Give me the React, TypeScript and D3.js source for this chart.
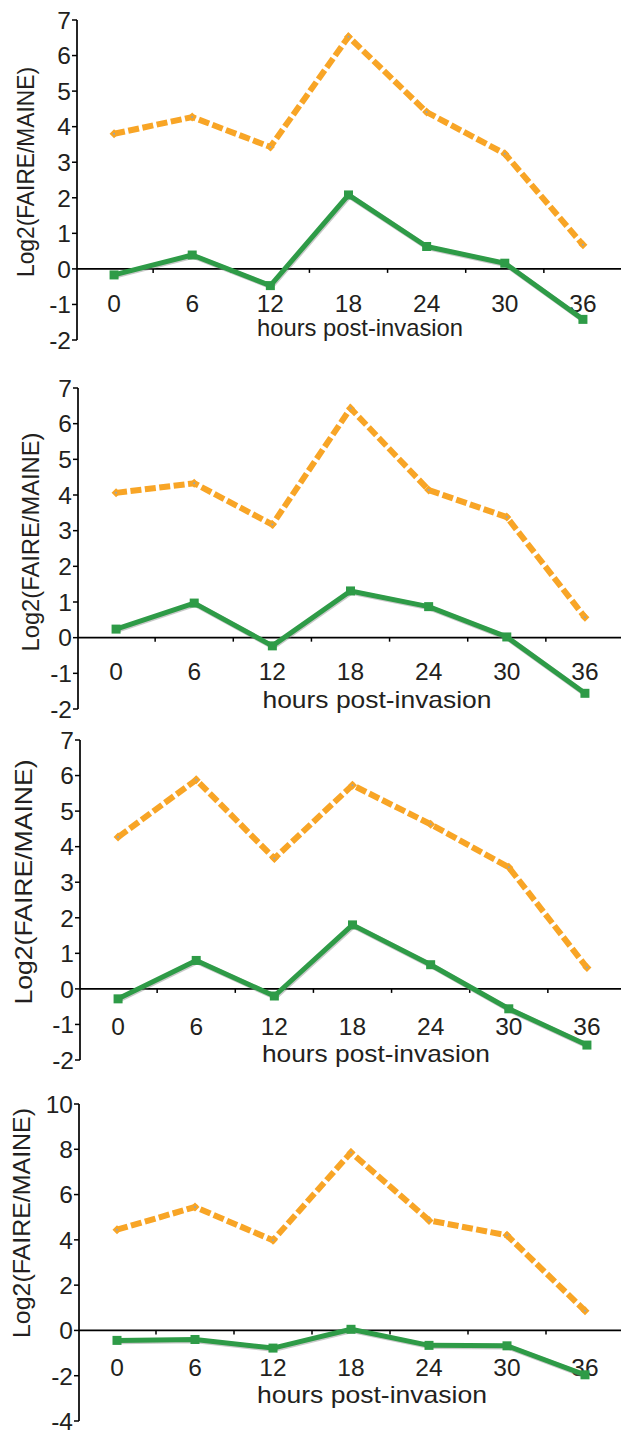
import React from 'react';
import * as d3 from 'd3';

// hours post-invasion (x categories)
const hours = ['0', '6', '12', '18', '24', '30', '36'];

// panel A
const orangeA = [3.8, 4.27, 3.43, 6.53, 4.41, 3.24, 0.68];
const greenA = [-0.17, 0.39, -0.47, 2.08, 0.63, 0.16, -1.42];
// panel B
const orangeB = [4.06, 4.33, 3.17, 6.43, 4.14, 3.38, 0.57];
const greenB = [0.24, 0.97, -0.23, 1.31, 0.87, 0.02, -1.56];
// panel C
const orangeC = [4.27, 5.88, 3.67, 5.73, 4.63, 3.42, 0.6];
const greenC = [-0.28, 0.8, -0.2, 1.8, 0.68, -0.56, -1.58];
// panel D
const orangeD = [4.45, 5.45, 3.98, 7.86, 4.86, 4.2, 0.87];
const greenD = [-0.44, -0.4, -0.78, 0.05, -0.66, -0.68, -1.96];

const ticksAD = [-2, -1, 0, 1, 2, 3, 4, 5, 6, 7];
const ticksD = [-4, -2, 0, 2, 4, 6, 8, 10];

const yLabel = 'Log2(FAIRE/MAINE)';
const xLabel = 'hours post-invasion';

const ORANGE = '#F8A526';
const GREEN = '#2E9B47';
const INK = '#231F20';
const FONT = '"Liberation Sans", Arial, sans-serif';

const layouts = [
	{ orange: orangeA, green: greenA, ticks: ticksAD, top: 20, bottom: 340, axisX: 77, band: [75, 622], labDy: 34, titleDy: 58, titleX: 360, titleLen: 206, ylX: 34, ylY: 172, ylLen: 210 },
	{ orange: orangeB, green: greenB, ticks: ticksAD, top: 388, bottom: 709, axisX: 78, band: [77, 624], labDy: 34, titleDy: 62, titleX: 377, titleLen: 229, ylX: 39, ylY: 542, ylLen: 219 },
	{ orange: orangeC, green: greenC, ticks: ticksAD, top: 740, bottom: 1060, axisX: 80, band: [79, 626], labDy: 37, titleDy: 64, titleX: 376, titleLen: 228, ylX: 32, ylY: 882, ylLen: 245 },
	{ orange: orangeD, green: greenD, ticks: ticksD, top: 1104, bottom: 1421, axisX: 79, band: [78, 624], labDy: 37, titleDy: 64, titleX: 372, titleLen: 230, ylX: 30, ylY: 1223, ylLen: 230 },
];

const Panel = ( { p } ) => {
	const x = d3.scaleBand().domain( hours ).range( p.band ).padding( 0 );
	const ext = d3.extent( p.ticks );
	const y = d3.scaleLinear().domain( [ ext[ 0 ], ext[ 1 ] ] ).range( [ p.bottom, p.top ] );
	const cx = ( h ) => x( h ) + x.bandwidth() / 2;
	const line = d3
		.line()
		.x( ( d, i ) => cx( hours[ i ] ) )
		.y( ( d ) => y( d ) );
	const y0 = y( 0 );

	return (
		<g>
			{/* y axis */}
			<line x1={p.axisX} x2={p.axisX} y1={p.top} y2={p.bottom} stroke="#000" strokeWidth={1.7} />
			{p.ticks.map( ( t ) => (
				<g key={t}>
					<line x1={p.axisX - 5} x2={p.axisX} y1={y( t )} y2={y( t )} stroke="#000" strokeWidth={1.5} />
					<text x={p.axisX - 6} y={y( t )} dy="0.36em" textAnchor="end" fontSize={24.5} fill={INK}>
						{t}
					</text>
				</g>
			) )}
			{/* x axis at zero */}
			<line x1={p.axisX} x2={621} y1={y0} y2={y0} stroke="#000" strokeWidth={1.7} />
			{hours.slice( 1 ).map( ( h ) => (
				<line key={h} x1={x( h )} x2={x( h )} y1={y0} y2={y0 + 4} stroke="#000" strokeWidth={1.5} />
			) )}
			{hours.map( ( h ) => (
				<text key={h} x={cx( h )} y={y0 + p.labDy} dy="0.36em" textAnchor="middle" fontSize={24.5} fill={INK}>
					{h}
				</text>
			) )}
			<text x={p.titleX} y={y0 + p.titleDy} dy="0.36em" textAnchor="middle" fontSize={24} fill={INK} textLength={p.titleLen} lengthAdjust="spacingAndGlyphs">
				{xLabel}
			</text>
			<text transform={`translate(${p.ylX},${p.ylY}) rotate(-90)`} textAnchor="middle" fontSize={24} fill={INK} textLength={p.ylLen} lengthAdjust="spacingAndGlyphs">
				{yLabel}
			</text>

			{/* orange dashed series */}
			<path d={line( p.orange )} fill="none" stroke={ORANGE} strokeWidth={6} strokeDasharray="11,3.5" />
			{p.orange.map( ( v, i ) => {
				const px = cx( hours[ i ] ),
					py = y( v );
				return (
					<g key={i}>
						<path d={`M${px - 4.5},${py}L${px},${py - 4.5}L${px + 4.5},${py}L${px},${py + 4.5}Z`} fill={ORANGE} />
						<circle cx={px} cy={py} r={1} fill="#8EA6BE" />
					</g>
				);
			} )}

			{/* green solid series */}
			<path d={line( p.green )} transform="translate(0.8,1)" fill="none" stroke="#777" strokeOpacity={0.4} strokeWidth={5.5} />
			<path d={line( p.green )} fill="none" stroke={GREEN} strokeWidth={5} strokeLinejoin="round" />
			{p.green.map( ( v, i ) => (
				<rect key={i} x={cx( hours[ i ] ) - 4.5} y={y( v ) - 4.5} width={9} height={9} fill={GREEN} />
			) )}
		</g>
	);
};

export default function App() {
	return (
		<svg
			width={621}
			height={1431}
			style={{ position: 'absolute', left: 0, top: 0, background: '#fff' }}
			fontFamily={FONT}
		>
			<rect width={621} height={1431} fill="#fff" />
			{layouts.map( ( p, i ) => (
				<Panel key={i} p={p} />
			) )}
		</svg>
	);
}
